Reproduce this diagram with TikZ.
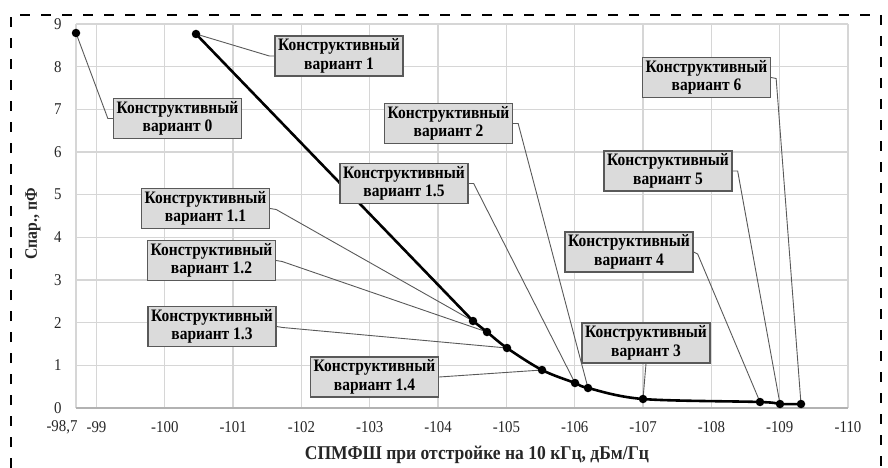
\documentclass[tikz,border=0pt]{standalone}
\usepackage{fontspec}
\setmainfont{Liberation Serif}
\newfontfamily\boxfont{Liberation Serif}[FakeStretch=0.885]
\newfontfamily\titlefont{Liberation Serif}[FakeStretch=0.9]
\pgfdeclarelayer{bg}
\pgfsetlayers{bg,main}
\begin{document}
\begin{tikzpicture}[x=1pt,y=-1pt,
  gridline/.style={draw=black!16, line width=1.3pt},
  lead/.style={draw=black!65, line width=0.9pt},
  vbox/.style={draw=black!65, fill=black!14, line width=1.3pt, minimum width=128pt,
    minimum height=40pt, inner sep=0pt, align=center,
    font=\boxfont\fontsize{17.5}{18.5}\selectfont\bfseries},
  tick/.style={font=\titlefont\fontsize{16.5}{18}\selectfont, text=black!85},
  dot/.style={circle, fill=black, inner sep=0pt, minimum size=8.5pt},
  curve/.style={draw=black, line width=2.6pt, line join=round}]
\useasboundingbox (0,0) rectangle (888,468);

% outer dashed frame
\draw[line width=2.6pt, dash pattern=on 10pt off 11pt] (11,468) -- (11,15) -- (881,15) -- (881,468);

% data points
\coordinate (p0) at (76,33);
\coordinate (p1) at (196,34);
\coordinate (p11) at (473,321);
\coordinate (p12) at (487,332);
\coordinate (p13) at (507,348);
\coordinate (p14) at (542,370);
\coordinate (p15) at (575,383);
\coordinate (p2) at (588,388);
\coordinate (p3) at (643,399);
\coordinate (p4) at (760,402);
\coordinate (p5) at (780,404);
\coordinate (p6) at (801,404);

% curve
\draw[curve] (p1) -- (p11);
\draw[curve] plot[smooth, tension=0.55] coordinates {(p11) (p12) (p13) (p14) (p15) (p2) (p3) (p4) (p5) (p6)};
\foreach \p in {p0,p1,p11,p12,p13,p14,p15,p2,p3,p4,p5,p6}
  \node[dot] (d\p) at (\p) {};

% label boxes
\node[vbox] (b0) at (177.5,118.5) {Конструктивный\\вариант 0};
\node[vbox] (b1) at (339,56) {Конструктивный\\вариант 1};
\node[vbox] (b2) at (448.5,123.5) {Конструктивный\\вариант 2};
\node[vbox] (b15) at (404,183.5) {Конструктивный\\вариант 1.5};
\node[vbox] (b11) at (205.5,208.5) {Конструктивный\\вариант 1.1};
\node[vbox] (b12) at (211.5,260.5) {Конструктивный\\вариант 1.2};
\node[vbox] (b13) at (212,326.5) {Конструктивный\\вариант 1.3};
\node[vbox] (b14) at (374.5,377) {Конструктивный\\вариант 1.4};
\node[vbox] (b3) at (646,343) {Конструктивный\\вариант 3};
\node[vbox] (b4) at (629,252) {Конструктивный\\вариант 4};
\node[vbox] (b5) at (668,171) {Конструктивный\\вариант 5};
\node[vbox] (b6) at (706.5,77.5) {Конструктивный\\вариант 6};

% axis titles
\node[font=\titlefont\fontsize{19.5}{22}\selectfont\bfseries, text=black!85] (xt) at (477,455)
  {СПМФШ при отстройке на 10 кГц, дБм/Гц};
\node[rotate=90, font=\titlefont\fontsize{17.5}{20}\selectfont\bfseries, text=black!85] (yt) at (33,224)
  {Спар., пФ};

% tick labels
\foreach \c in {0,...,9}
  \node[tick, anchor=east] (ty\c) at (65,{408-\c*42.67}) {\c};
\node[tick] (tx987) at (62,427) {-98,7};
\foreach \v in {99,...,110}
  \node[tick] (tx\v) at ({76+(\v-98.7)*68.32},427) {-\v};

\begin{pgfonlayer}{bg}
  % grid
  \foreach \c in {1,...,9}
    \draw[gridline] (76,{408-\c*42.67}) -- (848,{408-\c*42.67});
  \foreach \v in {99,...,110}
    \draw[gridline] ({76+(\v-98.7)*68.32},24) -- ({76+(\v-98.7)*68.32},408);
  \draw[gridline] (76,24) -- (76,408);
  \draw[draw=black!30, line width=1.3pt] (76,408) -- (848,408);
  % leaders
  \draw[lead] (b0.west) -- ++(-5,0) -- (p0);
  \draw[lead] (b1.west) -- ++(-5,0) -- (p1);
  \draw[lead] (b11.east) -- ++(6,1) -- (p11);
  \draw[lead] (b12.east) -- ++(6,1) -- (p12);
  \draw[lead] (b13.east) -- ++(6,1) -- (p13);
  \draw[lead] (b14.east) -- (p14);
  \draw[lead] (b15.east) -- ++(5,0) -- (p15);
  \draw[lead] (b2.east) -- ++(5,0) -- (p2);
  \draw[lead] (b3.south) -- (p3);
  \draw[lead] (b4.east) -- ++(4,2) -- (p4);
  \draw[lead] (b5.east) -- ++(5,0) -- (p5);
  \draw[lead] (b6.east) -- ++(5,1) -- (p6);
\end{pgfonlayer}
\end{tikzpicture}
\end{document}
